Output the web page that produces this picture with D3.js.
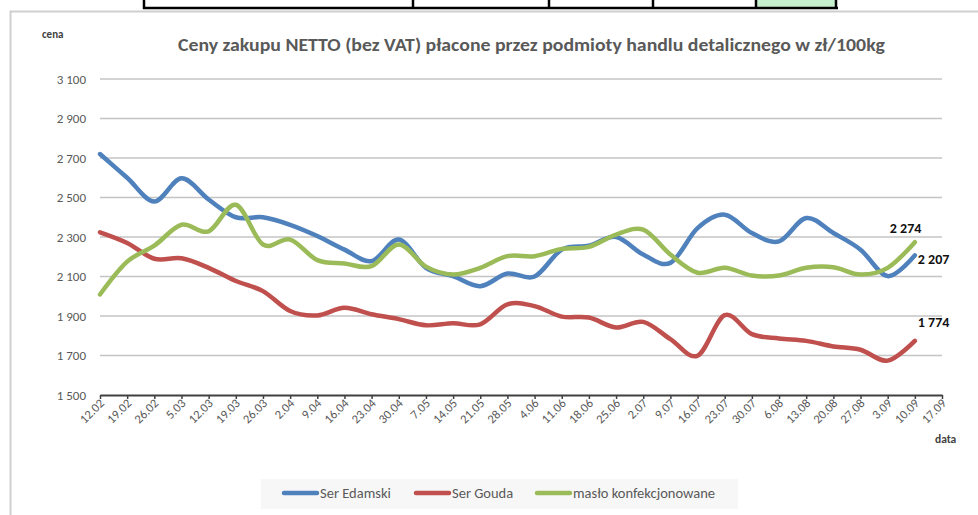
<!DOCTYPE html>
<meta charset="utf-8" />
<style>
  body {
    background: #fff;
    margin: 0px;
  }
  svg text {
    font-family: Carlito, Calibri, Lato, sans-serif;
  }
  .grid line {
    stroke: #c4c4c4;
    stroke-width: 1.5px;
  }
  .tick-label {
    fill: #595959;
    font-size: 13px;
  }
  .series {
    fill: none;
    stroke-width: 4.5px;
    stroke-linecap: round;
    stroke-linejoin: round;
  }
  .end-label {
    font-size: 14px;
    font-weight: bold;
    fill: #111;
  }
</style>
<body>
<script src="https://d3js.org/d3.v7.min.js"></script>
<script>
  var width = 978,
    height = 515;

  var dates = ["12.02", "19.02", "26.02", "5.03", "12.03", "19.03", "26.03", "2.04",
    "9.04", "16.04", "23.04", "30.04", "7.05", "14.05", "21.05", "28.05", "4.06",
    "11.06", "18.06", "25.06", "2.07", "9.07", "16.07", "23.07", "30.07", "6.08",
    "13.08", "20.08", "27.08", "3.09", "10.09", "17.09"];

  var serEdamski = [2720, 2600, 2480, 2597, 2490, 2400, 2400, 2362, 2305, 2236,
    2178, 2287, 2144, 2102, 2051, 2115, 2100, 2236, 2256, 2300, 2211, 2169, 2345,
    2413, 2320, 2278, 2396, 2320, 2236, 2102, 2207];

  var serGouda = [2324, 2270, 2190, 2192, 2144, 2077, 2026, 1925, 1903, 1942,
    1909, 1884, 1853, 1863, 1858, 1959, 1950, 1897, 1892, 1842, 1870, 1783, 1699,
    1904, 1808, 1786, 1774, 1746, 1729, 1674, 1774];

  var masloKonf = [2009, 2175, 2256, 2362, 2329, 2463, 2262, 2287, 2183, 2166,
    2152, 2262, 2150, 2110, 2144, 2203, 2203, 2240, 2250, 2312, 2337, 2211, 2119,
    2144, 2105, 2105, 2144, 2147, 2110, 2144, 2274];

  var yTicks = [1500, 1700, 1900, 2100, 2300, 2500, 2700, 2900, 3100];

  var seriesNames = ["Ser Edamski", "Ser Gouda", "masło konfekcjonowane"];
  var colors = ["#4F81BD", "#C0504D", "#9BBB59"];

  var series = [serEdamski, serGouda, masloKonf].map(function (vals, i) {
    return { name: seriesNames[i], color: colors[i], values: vals };
  });

  var pl = d3.formatLocale({ decimal: ",", thousands: "\u00a0", grouping: [3], currency: ["", " zł"] });
  var fmt = pl.format(",.0f");

  var svg = d3.select("body").append("svg")
    .attr("width", width)
    .attr("height", height);

  // kawałek tabeli nad wykresem
  var tableX = [144, 413, 549, 653, 756, 836];
  svg.append("rect").attr("x", 756).attr("y", 0).attr("width", 80).attr("height", 7).attr("fill", "#c6efce");
  svg.append("line").attr("x1", 143).attr("x2", 838).attr("y1", 8).attr("y2", 8)
    .attr("stroke", "#000").attr("stroke-width", 2.5);
  tableX.forEach(function (x) {
    svg.append("line").attr("x1", x).attr("x2", x).attr("y1", 0).attr("y2", 9)
      .attr("stroke", "#000").attr("stroke-width", 2.5);
  });

  // ramka wykresu
  svg.append("path").attr("d", "M10.5,515 V11.5 H978")
    .attr("fill", "none").attr("stroke", "#cfcfcf").attr("stroke-width", 2);

  var x = d3.scalePoint().domain(dates).range([100, 942]);
  var y = d3.scaleLinear().domain([1500, 3100]).range([395, 79]);

  // linie siatki
  svg.append("g").attr("class", "grid")
    .selectAll("line")
    .data(yTicks.slice(1))
    .enter().append("line")
    .attr("x1", 100).attr("x2", 942)
    .attr("y1", function (d) { return y(d); })
    .attr("y2", function (d) { return y(d); });

  svg.append("g").selectAll("text")
    .data(yTicks)
    .enter().append("text")
    .attr("class", "tick-label")
    .attr("x", 86)
    .attr("y", function (d) { return y(d) + 4.5; })
    .attr("text-anchor", "end")
    .text(function (d) { return fmt(d); });

  // oś X
  var xAxis = svg.append("g")
    .attr("transform", "translate(0,395)")
    .call(d3.axisBottom(x).tickSize(4).tickSizeOuter(0).tickFormat(""));
  xAxis.select(".domain").attr("stroke", "#404040").attr("stroke-width", 2);
  xAxis.selectAll(".tick line").attr("stroke", "#404040").attr("stroke-width", 1.5);

  svg.append("g").selectAll("text")
    .data(dates)
    .enter().append("text")
    .attr("class", "tick-label")
    .style("font-size", "12.5px")
    .attr("text-anchor", "end")
    .attr("transform", function (d) {
      return "translate(" + (x(d) + 5) + ",404) rotate(-45)";
    })
    .text(function (d) { return d; });

  var line = d3.line()
    .x(function (d, i) { return x(dates[i]); })
    .y(function (d) { return y(d); })
    .curve(d3.curveCardinal.tension(0));

  svg.append("g").selectAll("path")
    .data(series)
    .enter().append("path")
    .attr("class", "series")
    .attr("stroke", function (d) { return d.color; })
    .attr("d", function (d) { return line(d.values); });

  // etykiety ostatnich wartości
  var last = serEdamski.length - 1;
  var endLabels = [
    { v: masloKonf[last], dx: -25, dy: -9 },
    { v: serEdamski[last], dx: 3, dy: 9 },
    { v: serGouda[last], dx: 3, dy: -14 }
  ];
  svg.append("g").selectAll("text")
    .data(endLabels)
    .enter().append("text")
    .attr("class", "end-label")
    .attr("x", function (d) { return x(dates[last]) + d.dx; })
    .attr("y", function (d) { return y(d.v) + d.dy; })
    .text(function (d) { return fmt(d.v); });

  // tytuł i opisy osi
  svg.append("text")
    .attr("x", 178).attr("y", 51)
    .attr("textLength", 707).attr("lengthAdjust", "spacingAndGlyphs")
    .style("font-size", "17px").style("font-weight", "bold").attr("fill", "#595959")
    .text("Ceny zakupu NETTO (bez VAT) płacone przez podmioty handlu detalicznego w zł/100kg");

  svg.append("text").attr("x", 42).attr("y", 38)
    .style("font-size", "11px").style("font-weight", "bold").attr("fill", "#404040")
    .text("cena");

  svg.append("text").attr("x", 935).attr("y", 443)
    .style("font-size", "11.5px").style("font-weight", "bold").attr("fill", "#404040")
    .text("data");

  // legenda
  var legend = svg.append("g");
  legend.append("rect").attr("x", 261).attr("y", 479).attr("width", 477).attr("height", 30)
    .attr("fill", "#f7f7f7");
  var legendX = [284, 416, 537];
  series.forEach(function (s, i) {
    legend.append("line")
      .attr("x1", legendX[i]).attr("x2", legendX[i] + 33)
      .attr("y1", 493).attr("y2", 493)
      .attr("stroke", s.color).attr("stroke-width", 4.5).attr("stroke-linecap", "round");
    legend.append("text")
      .attr("x", legendX[i] + 36).attr("y", 498)
      .style("font-size", "14.5px").attr("fill", "#595959")
      .text(s.name);
  });
</script>
